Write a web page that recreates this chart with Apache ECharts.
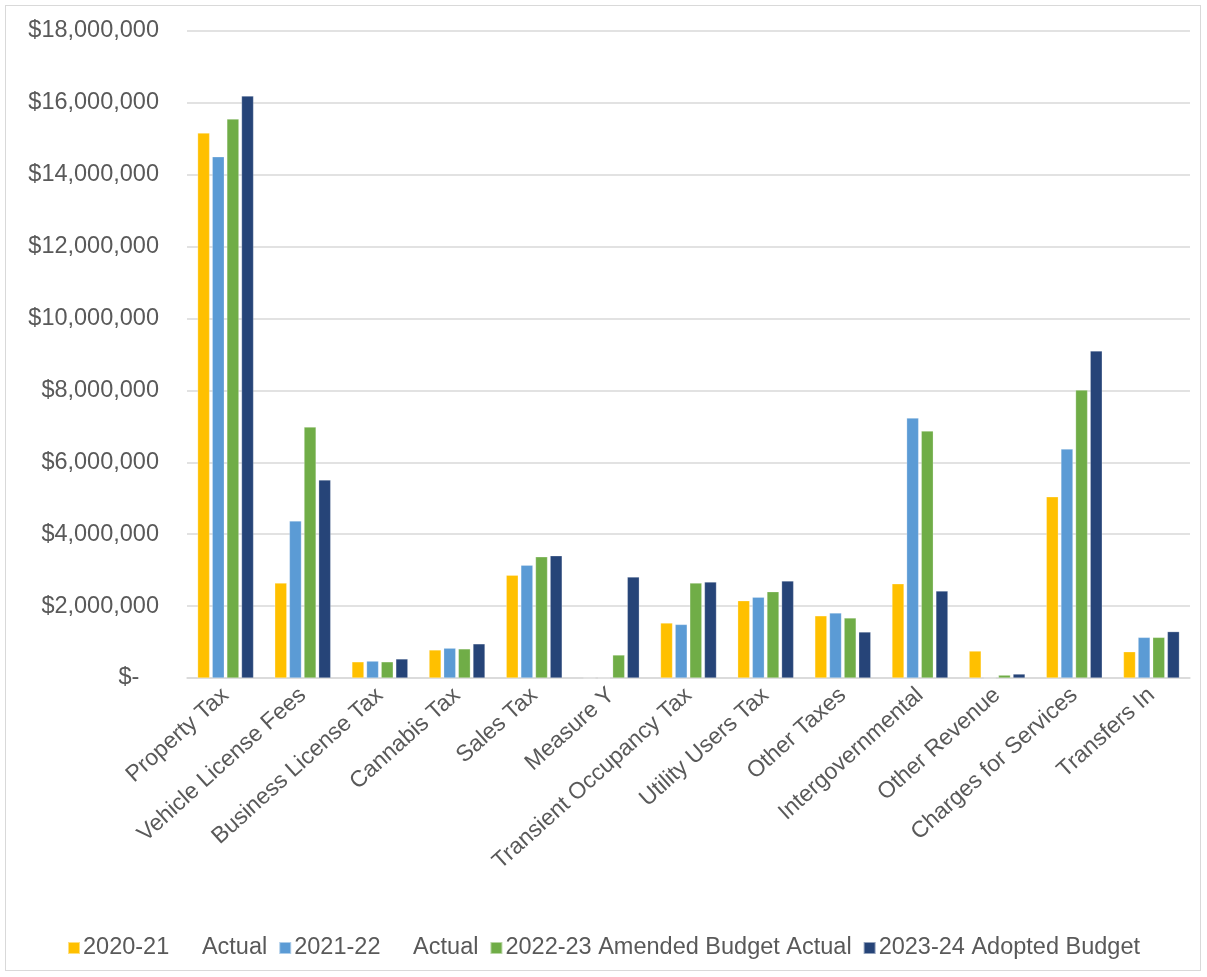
<!DOCTYPE html>
<html><head><meta charset="utf-8">
<script src="https://cdn.jsdelivr.net/npm/echarts@6/dist/echarts.min.js"></script>
<style>
html,body{margin:0;padding:0;background:#fff;}
#wrap{position:absolute;left:5px;top:5px;width:1196px;height:966px;border:1px solid #d9d9d9;box-sizing:border-box;}
#c{position:absolute;left:0;top:0;width:1207px;height:977px;}
</style></head>
<body>
<div id="wrap"></div>
<div id="c"></div>
<script>
const categories = ['Property Tax','Vehicle License Fees','Business License Tax','Cannabis Tax','Sales Tax','Measure Y','Transient Occupancy Tax','Utility Users Tax','Other Taxes','Intergovernmental','Other Revenue','Charges for Services','Transfers In'];
const seriesNames = ['2020-21     Actual','2021-22     Actual','2022-23 Amended Budget Actual','2023-24 Adopted Budget'];
const actual2021 = [15160000,2640000,450000,780000,2860000,0,1530000,2150000,1730000,2620000,750000,5040000,730000];
const actual2122 = [14500000,4370000,470000,830000,3140000,0,1490000,2250000,1810000,7230000,0,6370000,1130000];
const amended2223 = [15550000,6980000,450000,810000,3370000,640000,2640000,2400000,1670000,6870000,80000,8010000,1130000];
const adopted2324 = [16190000,5510000,530000,950000,3400000,2810000,2670000,2700000,1280000,2420000,110000,9100000,1290000];
const colors = ['#FFC000','#5B9BD5','#70AD47','#264478'];
const yTicks = {min:0,max:18000000,interval:2000000};

const chart = echarts.init(document.getElementById('c'));
const dataSets = [actual2021, actual2122, amended2223, adopted2324];
chart.setOption({
  animation:false,
  textStyle:{fontFamily:'Liberation Sans, Arial, sans-serif'},
  grid:{left:187,right:17,top:31,bottom:299,containLabel:false},
  legend:{
    top:931,left:'center',
    itemWidth:12,itemHeight:12,itemGap:11,icon:'rect',
    textStyle:{fontSize:23.5,color:'#595959',padding:[0,0,0,-2]},
    data:seriesNames
  },
  xAxis:{
    type:'category',data:categories,
    axisLine:{lineStyle:{color:'#d9d9d9',width:1.5}},
    axisTick:{show:false},
    axisLabel:{rotate:42,fontSize:23,color:'#595959',interval:0,margin:14}
  },
  yAxis:{
    type:'value',min:yTicks.min,max:yTicks.max,interval:yTicks.interval,
    axisLine:{show:false},axisTick:{show:false},
    splitLine:{lineStyle:{color:'#d9d9d9',width:1.5}},
    axisLabel:{fontSize:23.5,color:'#595959',margin:28,
      formatter:v=> v===0 ? '$-   ' : '$'+v.toLocaleString('en-US')}
  },
  series:seriesNames.map((n,i)=>({
    name:n,type:'bar',data:dataSets[i],
    barWidth:12,barGap:'22%',
    itemStyle:{color:colors[i],borderColor:'rgba(255,255,255,0.5)',borderWidth:0.5}
  }))
});
</script>
</body></html>
